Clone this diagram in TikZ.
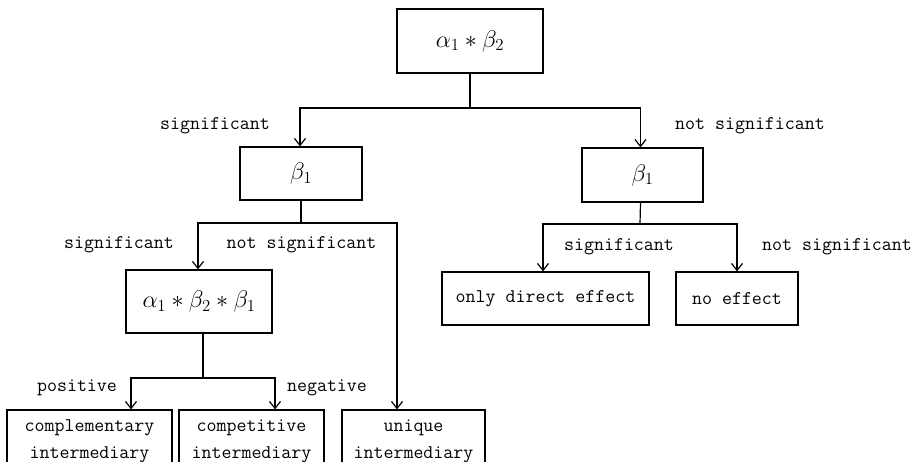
\RequirePackage{fix-cm}
\documentclass[tikz,border=0pt]{standalone}
\usepackage{fontspec}
\usetikzlibrary{arrows.meta}
\begin{document}
\begin{tikzpicture}[x=1pt,y=-1pt,
  box/.style={draw,line width=1.2pt,inner sep=0pt,align=center},
  mbox/.style={box,font=\fontsize{24}{28}\selectfont},
  tbox/.style={box,font=\ttfamily\fontsize{19.4}{27}\selectfont},
  lbl/.style={font=\ttfamily\fontsize{19.4}{22}\selectfont,inner sep=0pt},
  ln/.style={line width=1.2pt},
  arr/.style={ln,-{Straight Barb[length=7pt,width=11pt,line width=1.2pt]}}]
\useasboundingbox (0,0) rectangle (921,461);
\clip (0,0) rectangle (921,461);
% nodes
\node[mbox,minimum width=146,minimum height=64] (top) at (470,41) {$\alpha_1 * \beta_2$};
\node[mbox,minimum width=122,minimum height=53] (b1L) at (301,173.5) {$\beta_1$};
\node[mbox,minimum width=121,minimum height=54] (b1R) at (642.5,175) {$\beta_1$};
\node[mbox,minimum width=146,minimum height=63] (abb) at (199,301.5) {$\alpha_1 * \beta_2 * \beta_1$};
\node[tbox,minimum width=207,minimum height=53] (ode) at (545.5,298.5) {only direct effect};
\node[tbox,minimum width=122,minimum height=53] (noe) at (737,298.5) {no effect};
\node[tbox,minimum width=165,minimum height=62,text depth=3pt] (comp) at (89.5,441) {complementary\\intermediary};
\node[tbox,minimum width=145,minimum height=62,text depth=3pt] (compet) at (251.5,441) {competitive\\intermediary};
\node[tbox,minimum width=143,minimum height=62,text depth=3pt] (uniq) at (413.5,441) {unique\\intermediary};
% junctions
\coordinate (j1) at (470,108);
\coordinate (j2) at (301,223);
\coordinate (j3) at (203,378);
\coordinate (j4) at (640,224);
% connectors
\draw[ln] (top.south) -- (j1);
\draw[arr] (j1) -| ([xshift=-1pt]b1L.north);
\draw[arr] (j1) -| ([xshift=-2pt]b1R.north);
\draw[ln] (b1L.south) -- (j2);
\draw[arr] (j2) -| ([xshift=-1pt]abb.north);
\draw[arr] (j2) -| ([xshift=-16.5pt]uniq.north);
\draw[ln] ([xshift=4pt]abb.south) -- (j3);
\draw[arr] (j3) -| ([xshift=41.5pt]comp.north);
\draw[arr] (j3) -| ([xshift=23.5pt]compet.north);
\draw[ln] ([xshift=-2pt]b1R.south) -- (j4);
\draw[arr] (j4) -| ([xshift=-2.5pt]ode.north);
\draw[arr] (j4) -| (noe.north);
% labels
\node[lbl] (l1) at (215,126) {significant};
\node[lbl] (l2) at (750,126) {not significant};
\node[lbl] (l3) at (119,245) {significant};
\node[lbl] (l4) at (301.5,245) {not significant};
\node[lbl] (l5) at (619,247) {significant};
\node[lbl] (l6) at (837,247) {not significant};
\node[lbl] (l7) at (77,388) {positive};
\node[lbl] (l8) at (327,388) {negative};
\end{tikzpicture}
\end{document}
